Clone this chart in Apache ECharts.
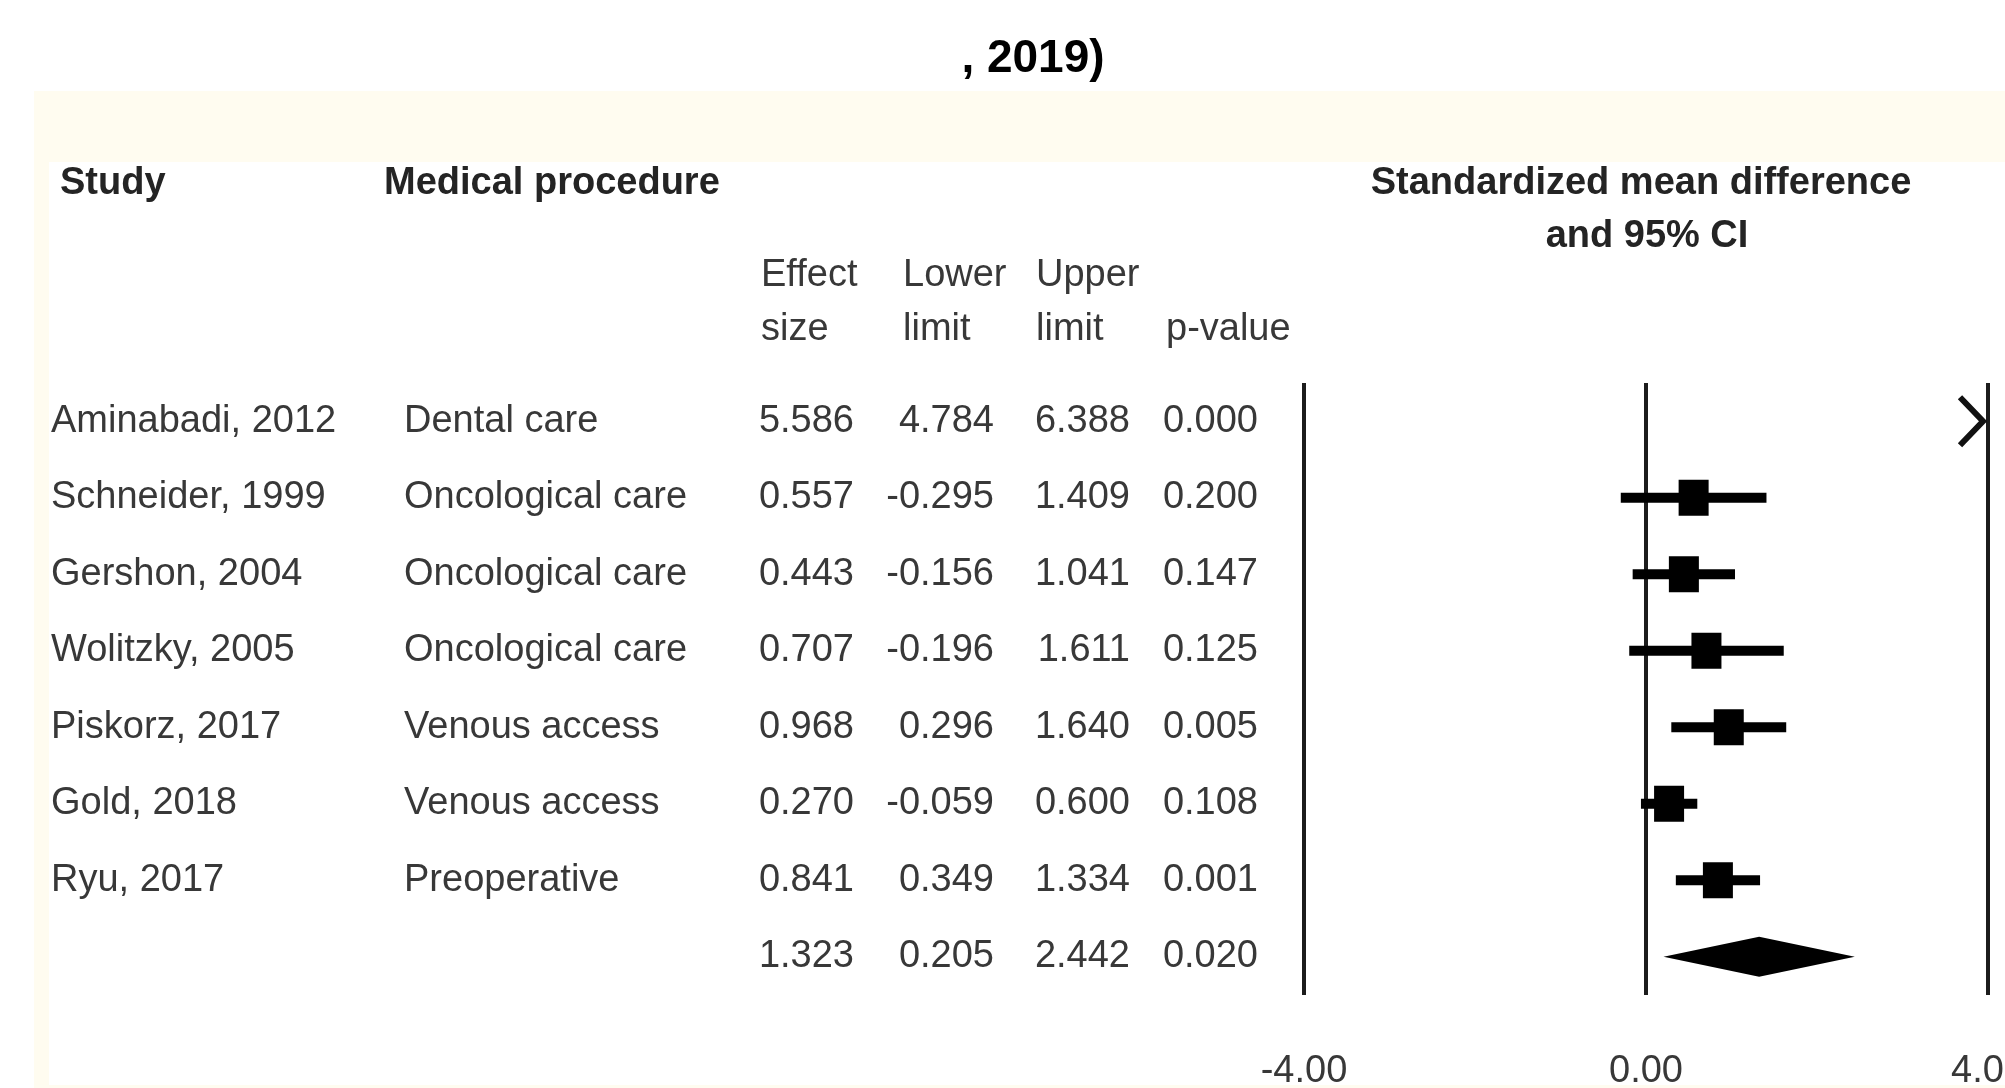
<!DOCTYPE html>
<html>
<head>
<meta charset="utf-8">
<title>Forest plot</title>
<script src="https://cdn.jsdelivr.net/npm/echarts@6/dist/echarts.min.js"></script>
<style>
  html, body { margin: 0; padding: 0; background: #fff; }
  #chart { width: 2005px; height: 1088px; }
</style>
</head>
<body>
<div id="chart"></div>
<script>
// table data, one entry per study
const studies = ['Aminabadi, 2012', 'Schneider, 1999', 'Gershon, 2004', 'Wolitzky, 2005', 'Piskorz, 2017', 'Gold, 2018', 'Ryu, 2017']
const procedures = ['Dental care', 'Oncological care', 'Oncological care', 'Oncological care', 'Venous access', 'Venous access', 'Preoperative']
const effectSize = [5.586, 0.557, 0.443, 0.707, 0.968, 0.270, 0.841]
const lowerLimit = [4.784, -0.295, -0.156, -0.196, 0.296, -0.059, 0.349]
const upperLimit = [6.388, 1.409, 1.041, 1.611, 1.640, 0.600, 1.334]
const pValue = [0.000, 0.200, 0.147, 0.125, 0.005, 0.108, 0.001]

// pooled estimate: effect, lower, upper, p
const summaryValues = [1.323, 0.205, 2.442, 0.020]

// x axis
const xMin = -4
const xMax = 4
const xInterval = 4

const titleText = ', 2019)'
const headStudy = 'Study'
const headProcedure = 'Medical procedure'
const headPlot = ['Standardized mean difference', 'and 95% CI']
const headEffect = ['Effect', 'size']
const headLower = ['Lower', 'limit']
const headUpper = ['Upper', 'limit']
const headP = 'p-value'

const FONT = '"Liberation Sans", Arial, Helvetica, sans-serif'
const TEXT = '#383838'
const HEAD = '#242424'

const rows = studies.concat([''])

const chart = echarts.init(document.getElementById('chart'))

const txt = (text, x, y, align, bold, size) => ({
  type: 'text',
  x: x,
  y: y,
  style: {
    text: text,
    fontFamily: FONT,
    fontSize: size || 38,
    fontWeight: bold ? 'bold' : 'normal',
    fill: bold ? HEAD : TEXT,
    align: align,
    verticalAlign: 'middle'
  }
})

// table rows drawn on the y scale of the plot
const tableData = rows.map((r, i) => [0, i])

const renderTable = (params, api) => {
  const i = api.value(1)
  const y = api.coord([0, i])[1]
  let vals
  if (i < studies.length) {
    vals = [effectSize[i], lowerLimit[i], upperLimit[i], pValue[i]]
  } else {
    vals = summaryValues
  }
  const children = [
    txt(studies[i] || '', 51, y, 'left'),
    txt(procedures[i] || '', 404, y, 'left'),
    txt(vals[0].toFixed(3), 854, y, 'right'),
    txt(vals[1].toFixed(3), 994, y, 'right'),
    txt(vals[2].toFixed(3), 1130, y, 'right'),
    txt(vals[3].toFixed(3), 1258, y, 'right')
  ]
  return { type: 'group', children: children }
}

const forestData = studies.map((s, i) => [lowerLimit[i], upperLimit[i], effectSize[i], i])

const renderForest = (params, api) => {
  const lo = api.value(0)
  const hi = api.value(1)
  const es = api.value(2)
  const row = api.value(3)
  const y = api.coord([0, row])[1]
  const left = api.coord([xMin, row])[0]
  const right = api.coord([xMax, row])[0]

  if (lo > xMax) {
    // whole interval off the scale: arrow at the right edge
    return {
      type: 'polyline',
      shape: { points: [[right - 28, y - 24], [right - 5, y], [right - 28, y + 24]] },
      style: { stroke: '#111', lineWidth: 6, fill: null }
    }
  }
  const x1 = Math.max(left, api.coord([lo, row])[0])
  const x2 = Math.min(right, api.coord([hi, row])[0])
  const xc = api.coord([es, row])[0]
  return {
    type: 'group',
    children: [
      {
        type: 'line',
        shape: { x1: x1, y1: y, x2: x2, y2: y },
        style: { stroke: '#000', lineWidth: 10 }
      },
      {
        type: 'rect',
        shape: { x: xc - 15, y: y - 18, width: 30, height: 36 },
        style: { fill: '#000' }
      }
    ]
  }
}

const renderDiamond = (params, api) => {
  const es = api.value(0)
  const lo = api.value(1)
  const hi = api.value(2)
  const row = api.value(3)
  const y = api.coord([0, row])[1]
  const xl = api.coord([lo, row])[0]
  const xr = api.coord([hi, row])[0]
  const xc = api.coord([es, row])[0]
  return {
    type: 'polygon',
    shape: { points: [[xl, y], [xc, y - 20], [xr, y], [xc, y + 20]] },
    style: { fill: '#000' }
  }
}

const option = {
  backgroundColor: '#fff',
  animation: false,
  grid: {
    left: 1304,
    right: 17,
    top: 383,
    bottom: 93,
    containLabel: false,
    outerBoundsMode: 'none'
  },
  xAxis: {
    type: 'value',
    min: xMin,
    max: xMax,
    interval: xInterval,
    axisLine: { show: false },
    axisTick: { show: false },
    splitLine: { show: true, lineStyle: { color: '#1c1c1c', width: 4 } },
    axisLabel: {
      margin: 58,
      fontFamily: FONT,
      fontSize: 38,
      color: TEXT,
      formatter: v => v.toFixed(2)
    }
  },
  yAxis: {
    type: 'category',
    data: rows,
    inverse: true,
    show: false
  },
  graphic: [
    // cream frame of the original figure
    { type: 'rect', silent: true, shape: { x: 34, y: 91, width: 1971, height: 71 }, style: { fill: '#fffcf0' } },
    { type: 'rect', silent: true, shape: { x: 34, y: 162, width: 15, height: 926 }, style: { fill: '#fffcf0' } },
    { type: 'rect', silent: true, shape: { x: 49, y: 1085, width: 1956, height: 3 }, style: { fill: '#fffcf0' } },
    {
      type: 'text', x: 1033, y: 59,
      style: { text: titleText, fontFamily: FONT, fontSize: 46, fontWeight: 'bold', fill: '#000', align: 'center', verticalAlign: 'middle' }
    },
    txt(headStudy, 60, 184, 'left', true, 38),
    txt(headProcedure, 384, 184, 'left', true, 38),
    txt(headPlot[0], 1641, 184, 'center', true, 38),
    txt(headPlot[1], 1647, 237, 'center', true, 38),
    txt(headEffect[0], 761, 276, 'left'),
    txt(headEffect[1], 761, 330, 'left'),
    txt(headLower[0], 903, 276, 'left'),
    txt(headLower[1], 903, 330, 'left'),
    txt(headUpper[0], 1036, 276, 'left'),
    txt(headUpper[1], 1036, 330, 'left'),
    txt(headP, 1166, 330, 'left')
  ],
  series: [
    {
      name: 'table',
      type: 'custom',
      clip: false,
      silent: true,
      renderItem: renderTable,
      encode: { x: 0, y: 1 },
      data: tableData
    },
    {
      name: 'studies',
      type: 'custom',
      clip: false,
      renderItem: renderForest,
      encode: { x: [0, 1, 2], y: 3 },
      data: forestData
    },
    {
      name: 'overall',
      type: 'custom',
      clip: false,
      renderItem: renderDiamond,
      encode: { x: [0, 1, 2], y: 3 },
      data: [summaryValues.slice(0, 3).concat([studies.length])]
    }
  ]
}

chart.setOption(option)
</script>
</body>
</html>
